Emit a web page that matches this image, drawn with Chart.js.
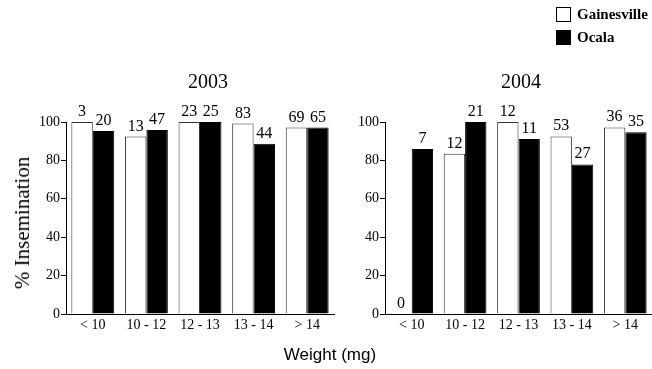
<!DOCTYPE html>
<html>
<head>
<meta charset="utf-8">
<script src="https://cdn.jsdelivr.net/npm/chart.js@4.4.1/dist/chart.umd.min.js"></script>
<style>
  html, body { margin: 0; padding: 0; background: #fff; }
  #page { position: relative; width: 652px; height: 369px; overflow: hidden; background: #fff; }
  .box { position: absolute; }
  .txt { position: absolute; color: #000; white-space: nowrap; }
  .serif { font-family: "Liberation Serif", "DejaVu Serif", serif; }
  .swatch { position: absolute; width: 15px; height: 15px; box-sizing: border-box; border: 1.5px solid #000; }
</style>
</head>
<body>
<div id="page">
  <div class="box" style="left:0;top:0;width:340px;height:369px;"><canvas id="chart2003" width="340" height="369"></canvas></div>
  <div class="box" style="left:330px;top:0;width:322px;height:369px;"><canvas id="chart2004" width="322" height="369"></canvas></div>

  <!-- legend -->
  <div class="swatch" style="left:556px;top:7px;background:#fff;"></div>
  <div class="txt serif" style="left:577px;top:5px;font-size:15px;font-weight:bold;line-height:18px;">Gainesville</div>
  <div class="swatch" style="left:556px;top:30px;background:#000;"></div>
  <div class="txt serif" style="left:577px;top:28px;font-size:15px;font-weight:bold;line-height:18px;">Ocala</div>

  <!-- panel titles -->
  <div class="txt serif" style="left:168px;top:70px;width:80px;text-align:center;font-size:20px;line-height:22px;">2003</div>
  <div class="txt serif" style="left:481px;top:70px;width:80px;text-align:center;font-size:20px;line-height:22px;">2004</div>

  <!-- axis titles -->
  <div class="txt serif" style="left:22px;top:223px;font-size:21px;line-height:22px;transform:translate(-50%,-50%) rotate(-90deg);">% Insemination</div>
  <div class="txt" style="left:240px;top:345px;width:180px;text-align:center;font-family:'Liberation Sans', Arial, sans-serif;font-size:17px;line-height:20px;">Weight (mg)</div>
</div>

<script>
// weight classes
const categories = ['< 10', '10 - 12', '12 - 13', '13 - 14', '> 14']

// % insemination
const gainesville2003 = [100, 92.4, 100, 99.2, 97.1]
const ocala2003 = [95.3, 95.8, 100, 88.7, 97.1]
const gainesville2004 = [0, 83.5, 100, 92.5, 97.2]
const ocala2004 = [85.9, 100, 91.1, 77.9, 94.6]

// sample sizes printed above the bars
const nGainesville2003 = [3, 13, 23, 83, 69]
const nOcala2003 = [20, 47, 25, 44, 65]
const nGainesville2004 = [0, 12, 12, 53, 36]
const nOcala2004 = [7, 21, 11, 27, 35]

const yMin = 0
const yMax = 100
const yStep = 20

const serif = '"Liberation Serif", "DejaVu Serif", serif'

// draws the n above each bar
const countLabels = {
  id: 'countLabels',
  afterDatasetsDraw(chart) {
    const ctx = chart.ctx
    ctx.save()
    ctx.fillStyle = '#000'
    ctx.font = '16px ' + serif
    ctx.textAlign = 'center'
    ctx.textBaseline = 'alphabetic'
    chart.data.datasets.forEach((ds, i) => {
      const meta = chart.getDatasetMeta(i)
      meta.data.forEach((bar, j) => {
        ctx.fillText(String(ds.counts[j]), bar.x, bar.y - 6)
      })
    })
    ctx.restore()
  }
}

function makePanel(canvasId, white, black, nWhite, nBlack, yWidth, padRight) {
  const ctx = document.getElementById(canvasId).getContext('2d')
  return new Chart(ctx, {
    type: 'bar',
    data: {
      labels: categories,
      datasets: [
        {
          label: 'Gainesville',
          data: white,
          counts: nWhite,
          backgroundColor: '#fff',
          borderColor: '#333',
          borderWidth: 1,
          borderSkipped: 'bottom'
        },
        {
          label: 'Ocala',
          data: black,
          counts: nBlack,
          backgroundColor: '#000',
          borderColor: '#000',
          borderWidth: 1,
          borderSkipped: 'bottom'
        }
      ]
    },
    options: {
      responsive: false,
      animation: false,
      events: [],
      layout: { padding: { top: 122, bottom: 25, left: 0, right: padRight } },
      plugins: {
        legend: { display: false },
        tooltip: { enabled: false }
      },
      datasets: {
        bar: { categoryPercentage: 0.8, barPercentage: 1.0 }
      },
      scales: {
        x: {
          grid: { drawOnChartArea: false, drawTicks: false },
          border: { display: true, color: '#000', width: 1 },
          ticks: { color: '#000', font: { family: serif, size: 14 }, padding: 3, maxRotation: 0 },
          afterFit: (scale) => { scale.height = 30 }
        },
        y: {
          min: yMin,
          max: yMax,
          grid: { drawOnChartArea: false, drawTicks: true, tickLength: 5, color: '#000' },
          border: { display: true, color: '#000', width: 1 },
          ticks: { stepSize: yStep, color: '#000', font: { family: serif, size: 14 }, padding: 1 },
          afterFit: (scale) => { scale.width = yWidth }
        }
      }
    },
    plugins: [countLabels]
  })
}

makePanel('chart2003', gainesville2003, ocala2003, nGainesville2003, nOcala2003, 66, 6)
makePanel('chart2004', gainesville2004, ocala2004, nGainesville2004, nOcala2004, 55, 0)
</script>
</body>
</html>
